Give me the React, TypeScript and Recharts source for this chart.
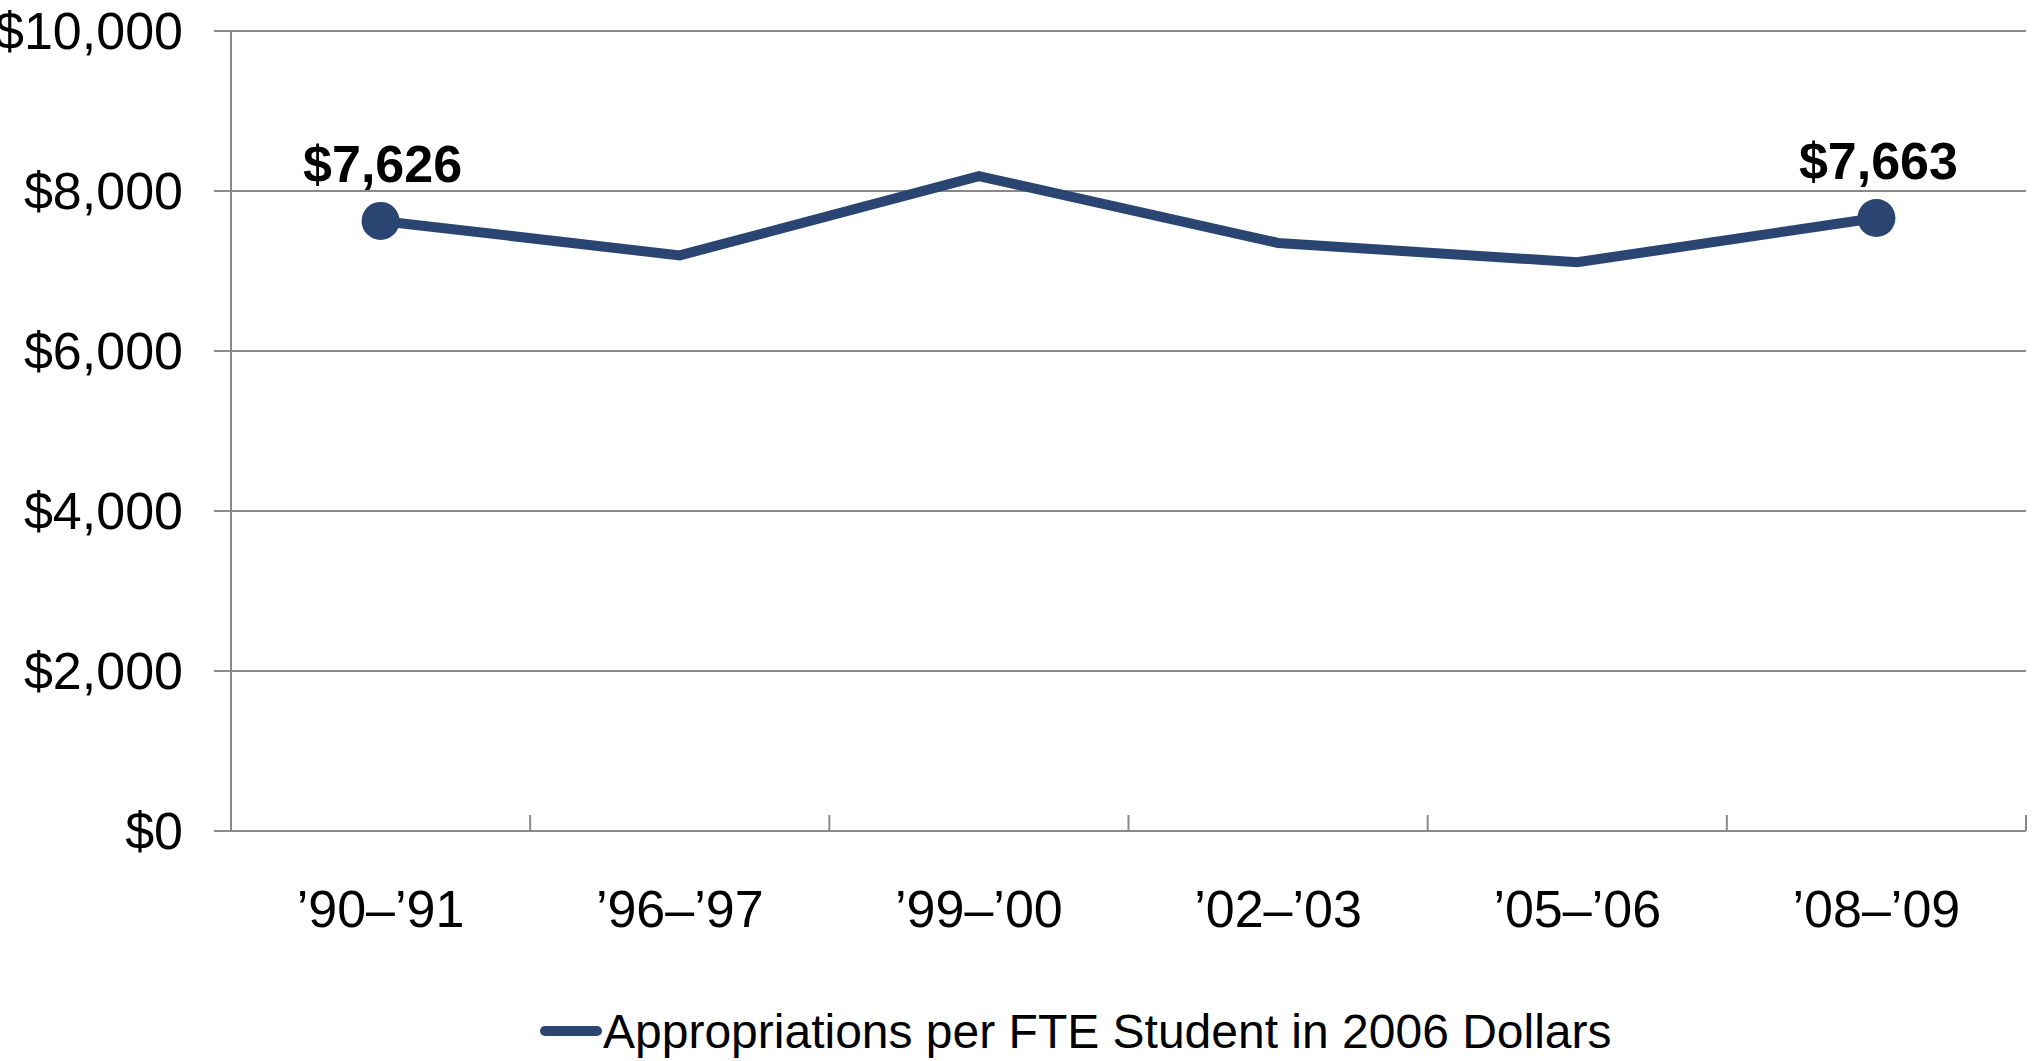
import React from "react";
import {
  LineChart,
  Line,
  XAxis,
  YAxis,
  CartesianGrid,
  Legend,
} from "recharts";

const years = ["\u201990\u2013\u201991", "\u201996\u2013\u201997", "\u201999\u2013\u201900", "\u201902\u2013\u201903", "\u201905\u2013\u201906", "\u201908\u2013\u201909"];
const appropriations = [7626, 7195, 8185, 7350, 7110, 7663];
const yTicks = [0, 2000, 4000, 6000, 8000, 10000];
const seriesName = "Appropriations per FTE Student in 2006 Dollars";

const data = years.map((year, i) => ({ year, value: appropriations[i] }));

const FONT = '"Liberation Sans", Arial, sans-serif';
const NAVY = "#2B4573";
const GRID = "#898989";
const X_TICK_SIZE = 6;
const X_TICK_MARGIN = 53;

const money = (v: number) => `$${v.toLocaleString("en-US")}`;

// category label plus an Excel-style tick mark on the band's right edge
function YearTick(props: any) {
  const { x, y, payload } = props;
  const axisY = y - X_TICK_SIZE - X_TICK_MARGIN;
  const edge = x + (payload.offset || 0);
  return (
    <g>
      <line x1={edge} x2={edge} y1={axisY} y2={axisY - 16} stroke={GRID} strokeWidth={2} />
      <text
        x={x}
        y={y}
        dy="0.71em"
        textAnchor="middle"
        fontFamily={FONT}
        fontSize={52}
        fill="#000"
      >
        {payload.value}
      </text>
    </g>
  );
}

function EndLabel(props: any) {
  const { x, y, value, index } = props;
  if (index !== 0 && index !== appropriations.length - 1) return null;
  return (
    <text
      x={x + 2}
      y={y - 39}
      textAnchor="middle"
      fontFamily={FONT}
      fontWeight="bold"
      fontSize={52}
      fill="#000"
    >
      {money(value)}
    </text>
  );
}

function LegendContent() {
  return (
    <div
      style={{
        display: "flex",
        alignItems: "center",
        height: 60,
        paddingLeft: 540,
        fontFamily: FONT,
        fontSize: 48,
        color: "#000",
      }}
    >
      <svg width={62} height={12} style={{ marginRight: 1 }}>
        <line x1={5} y1={6} x2={57} y2={6} stroke={NAVY} strokeWidth={10} strokeLinecap="round" />
      </svg>
      <span>{seriesName}</span>
    </div>
  );
}

export default function App() {
  return (
    <div style={{ position: "absolute", left: 0, top: 0, background: "#fff" }}>
      <LineChart
        width={2036}
        height={1061}
        data={data}
        margin={{ top: 31, right: 10, left: 0, bottom: 0 }}
      >
        <CartesianGrid vertical={false} stroke={GRID} strokeWidth={2} />
        <XAxis
          dataKey="year"
          scale="band"
          height={170}
          axisLine={{ stroke: GRID, strokeWidth: 2 }}
          tickLine={false}
          tickSize={X_TICK_SIZE}
          tickMargin={X_TICK_MARGIN}
          interval={0}
          tick={<YearTick />}
        />
        <YAxis
          width={231}
          domain={[0, 10000]}
          ticks={yTicks}
          interval={0}
          tickFormatter={money}
          tickSize={17}
          tickMargin={31}
          axisLine={{ stroke: GRID, strokeWidth: 2 }}
          tickLine={{ stroke: GRID, strokeWidth: 2 }}
          tick={{ fontFamily: FONT, fontSize: 52, fill: "#000" }}
        />
        <Legend verticalAlign="bottom" content={<LegendContent />} />
        <Line
          type="linear"
          dataKey="value"
          name={seriesName}
          stroke={NAVY}
          strokeWidth={10}
          dot={(p: any) =>
            p.index === 0 || p.index === appropriations.length - 1 ? (
              <circle key={p.index} cx={p.cx} cy={p.cy} r={19} fill={NAVY} />
            ) : (
              <g key={p.index} />
            )
          }
          label={<EndLabel />}
          isAnimationActive={false}
        />
      </LineChart>
    </div>
  );
}
